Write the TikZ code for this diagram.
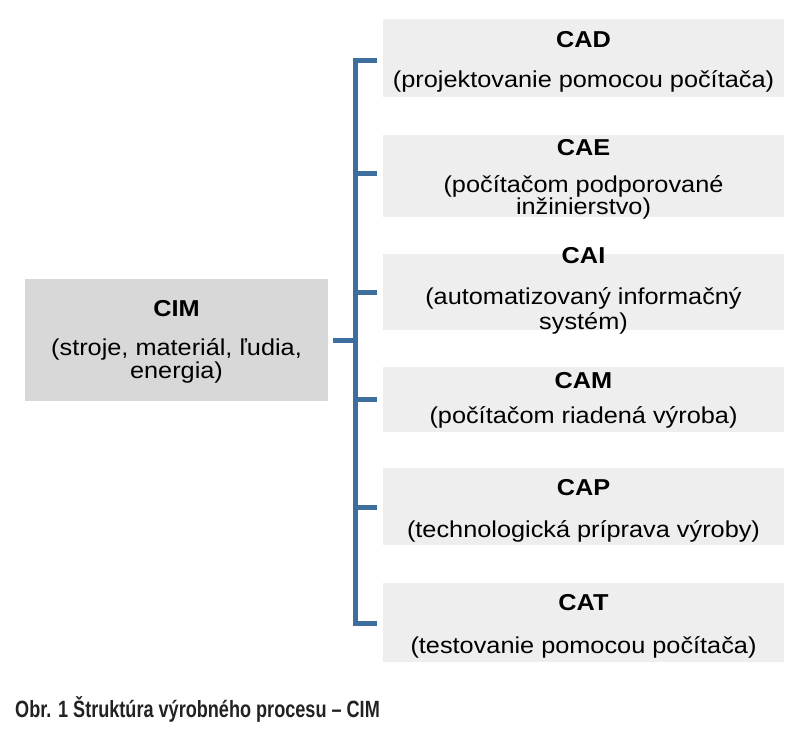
\documentclass[tikz,border=0pt]{standalone}
\usepackage{fontspec}
\setmainfont{Liberation Sans}[FakeStretch=1.1]
\newfontfamily\capfont{Liberation Sans}[FakeStretch=0.77]
\definecolor{spinecol}{HTML}{3E6E9E}
\definecolor{lightbox}{HTML}{EEEEEE}
\definecolor{cimbox}{HTML}{D8D8D8}
\definecolor{captxt}{HTML}{222222}
\begin{document}
\begin{tikzpicture}[x=1pt,y=-1pt,
  rbox/.style={fill=lightbox,draw=none,minimum width=401pt,inner sep=0pt},
  cbox/.style={fill=cimbox,draw=none,minimum width=303pt,minimum height=122pt,inner sep=0pt},
  ttl/.style={anchor=base,inner sep=0pt,font=\fontsize{23}{23}\selectfont\bfseries},
  sub/.style={anchor=base,inner sep=0pt,font=\fontsize{23}{23}\selectfont},
  conn/.style={draw=spinecol,line width=5pt,line join=miter,line cap=butt},
  capt/.style={anchor=base west,inner sep=0pt,text=captxt,font=\fontsize{23.5}{24}\capfont\bfseries}]
\useasboundingbox (0,0) rectangle (800,728);
% boxes
\node[cbox] (cim) at (176.5,340) {};
\node[rbox,minimum height=78pt] (cad) at (583.5,58) {};
\node[rbox,minimum height=82pt] (cae) at (583.5,176) {};
\node[rbox,minimum height=76pt] (cai) at (583.5,292) {};
\node[rbox,minimum height=65pt] (cam) at (583.5,399.5) {};
\node[rbox,minimum height=77pt] (cap) at (583.5,506.5) {};
\node[rbox,minimum height=79pt] (cat) at (583.5,622.5) {};
% texts
\node[ttl] (cimT) at (176.5,316) {CIM};
\node[sub] (cimA) at (176.5,355) {(stroje, materiál, ľudia,};
\node[sub] (cimB) at (176.5,378) {energia)};
\node[ttl] (cadT) at (583.5,47) {CAD};
\node[sub] (cadA) at (583.5,87) {(projektovanie pomocou počítača)};
\node[ttl] (caeT) at (583.5,155) {CAE};
\node[sub] (caeA) at (583.5,192) {(počítačom podporované};
\node[sub] (caeB) at (583.5,214) {inžinierstvo)};
\node[ttl] (caiT) at (583.5,263) {CAI};
\node[sub] (caiA) at (583.5,304) {(automatizovaný informačný};
\node[sub] (caiB) at (583.5,329) {systém)};
\node[ttl] (camT) at (583.5,388) {CAM};
\node[sub] (camA) at (583.5,423) {(počítačom riadená výroba)};
\node[ttl] (capT) at (583.5,495) {CAP};
\node[sub] (capA) at (583.5,537) {(technologická príprava výroby)};
\node[ttl] (catT) at (583.5,610) {CAT};
\node[sub] (catA) at (583.5,653) {(testovanie pomocou počítača)};
% caption
\node[capt] (caption) at (15,717) {Obr. 1 Štruktúra výrobného procesu – CIM};
% spine
\coordinate (t1) at (355.5,60);
\coordinate (t2) at (355.5,173);
\coordinate (t3) at (355.5,292);
\coordinate (t4) at (355.5,399);
\coordinate (t5) at (355.5,507);
\coordinate (t6) at (355.5,623);
\draw[conn,shorten <=6pt,shorten >=6pt] (t1 -| cad.west) -- (t1) -- (t6) -- (t6 -| cat.west);
\draw[conn,shorten >=6pt] (t2) -- (t2 -| cae.west);
\draw[conn,shorten >=6pt] (t3) -- (t3 -| cai.west);
\draw[conn,shorten >=6pt] (t4) -- (t4 -| cam.west);
\draw[conn,shorten >=6pt] (t5) -- (t5 -| cap.west);
\draw[conn,shorten <=5pt] (cim.east) -- (cim.east -| t1);
\end{tikzpicture}
\end{document}
